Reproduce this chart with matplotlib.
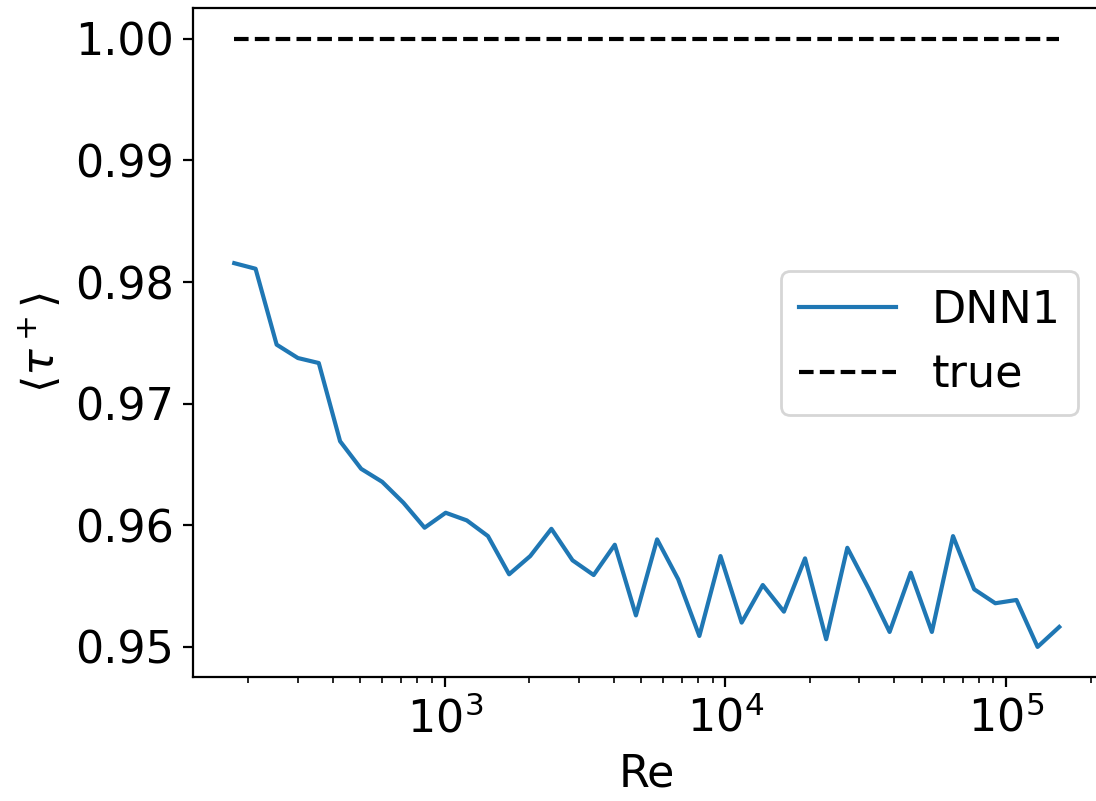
import numpy as np
import matplotlib
matplotlib.use('Agg')
import matplotlib.pyplot as plt

# Reynolds numbers and mean wall shear stress predicted by the network
Re = [178, 212, 252, 300, 356, 424, 504, 599, 713, 848,
      1008, 1199, 1426, 1696, 2017, 2399, 2853, 3393, 4035, 4799,
      5708, 6788, 8073, 9602, 11420, 13581, 16152, 19210, 22846, 27171,
      32314, 38432, 45707, 54360, 64651, 76890, 91446, 108758, 129346, 154500]
tau_dnn1 = [0.98155, 0.98109, 0.97485, 0.97375, 0.97334, 0.96691, 0.96464, 0.96357, 0.96185, 0.95980,
            0.96103, 0.96040, 0.95911, 0.95597, 0.95747, 0.95971, 0.95712, 0.95591, 0.95840, 0.95259,
            0.95884, 0.95556, 0.95090, 0.95747, 0.95200, 0.95509, 0.95290, 0.95728, 0.95063, 0.95815,
            0.95482, 0.95123, 0.95610, 0.95123, 0.95911, 0.95474, 0.95359, 0.95386, 0.95000, 0.95164]
tau_true = [1.0] * len(Re)

plt.rcParams['font.size'] = 16

fig = plt.figure(figsize=(5.48, 4.005), dpi=200)
# axes runs a little past the right edge of the canvas
ax = fig.add_axes([0.1761, 0.1544, 0.828, 0.8352])
ax.plot(Re, tau_dnn1, label='DNN1')
ax.plot(Re, tau_true, color='k', linestyle=(0, (3.5, 1.5)), label='true')
ax.set_xscale('log')
ax.set_xlabel('Re')
ax.set_ylabel(r'$\langle \tau^+ \rangle$')
ax.legend(loc='center right', handlelength=2.18)
fig.savefig('out.png', dpi=200)
